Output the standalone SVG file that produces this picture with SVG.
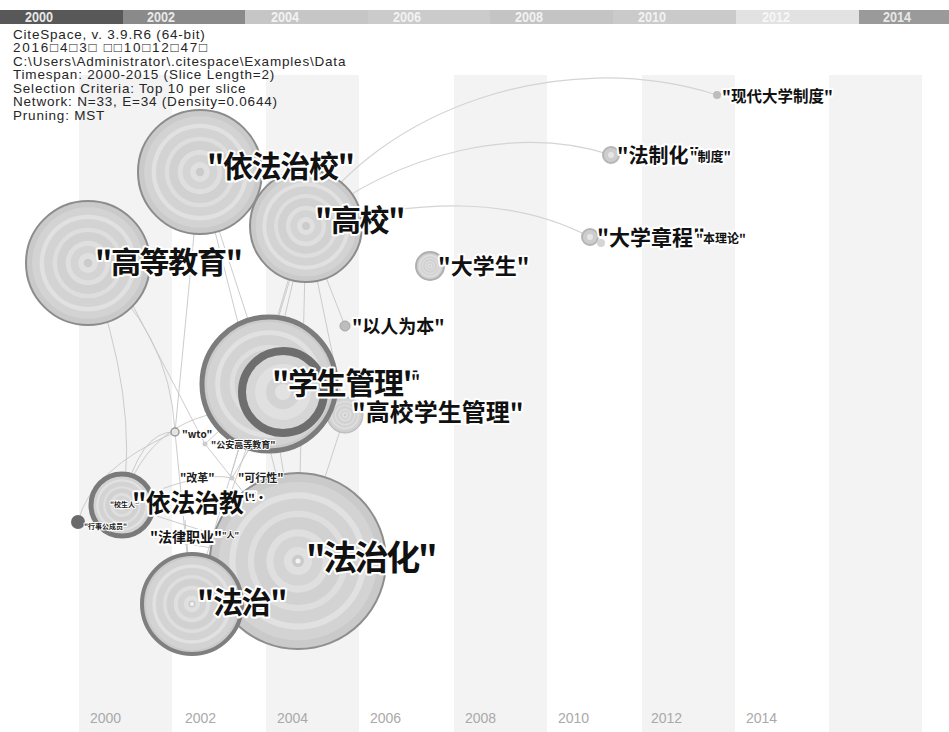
<svg xmlns="http://www.w3.org/2000/svg" xmlns:xlink="http://www.w3.org/1999/xlink" width="949" height="732" viewBox="0 0 949 732">
<style>
.hdr{font-family:"Liberation Sans",Arial,sans-serif;font-size:13.5px;letter-spacing:0.8px;fill:#262626}
.bar{font-family:"Liberation Sans Narrow","Liberation Sans",sans-serif;font-size:14px;font-weight:bold}
.yr{font-family:"Liberation Sans",Arial,sans-serif;font-size:14px;fill:#a9a9a9}
.lb{font-family:"Noto Sans CJK SC","Liberation Sans",sans-serif;font-weight:bold;fill:#111;stroke:#fff;stroke-width:4;stroke-linejoin:round;paint-order:stroke}
.big{letter-spacing:-1.3px}
.sm{font-family:"Noto Sans CJK SC","Liberation Sans",sans-serif;font-weight:bold;fill:#222;stroke:#fff;stroke-width:2;stroke-linejoin:round;paint-order:stroke}
.edge{fill:none;stroke:#c6c6c6;stroke-width:0.9}
.edge2{fill:none;stroke:#d4d4d4;stroke-width:1.2}
.stripe{fill:#f3f3f3}
</style>
<defs>
<g id="rings">
<circle r="100" fill="#cacaca"/>
<circle r="90" fill="#d3d3d3"/>
<circle r="78" fill="#e1e1e1"/>
<circle r="71" fill="#d3d3d3"/>
<circle r="57" fill="#dedede"/>
<circle r="50" fill="#d1d1d1"/>
<circle r="36" fill="#dfdfdf"/>
<circle r="28" fill="#d4d4d4"/>
<circle r="16" fill="#e0e0e0"/>
<circle r="7" fill="#cbcbcb"/>
</g>
</defs>
<rect width="949" height="732" fill="#ffffff"/>

<g id="stripes">
<rect class="stripe" x="79" y="75" width="93" height="657"/>
<rect class="stripe" x="266" y="75" width="93" height="657"/>
<rect class="stripe" x="454" y="75" width="93" height="657"/>
<rect class="stripe" x="642" y="75" width="93" height="657"/>
<rect class="stripe" x="829" y="75" width="93" height="657"/>
</g>

<g id="timebar">
<rect x="0" y="10" width="123" height="14" fill="#585858"/>
<rect x="123" y="10" width="122" height="14" fill="#8a8a8a"/>
<rect x="245" y="10" width="123" height="14" fill="#c6c6c6"/>
<rect x="368" y="10" width="122" height="14" fill="#cbcbcb"/>
<rect x="490" y="10" width="123" height="14" fill="#c4c4c4"/>
<rect x="613" y="10" width="123" height="14" fill="#cacaca"/>
<rect x="736" y="10" width="123" height="14" fill="#e2e2e2"/>
<rect x="859" y="10" width="90" height="14" fill="#9a9a9a"/>
<text class="bar" x="25" y="22" fill="#e8e8e8" textLength="28" lengthAdjust="spacingAndGlyphs">2000</text>
<text class="bar" x="147" y="22" fill="#e8e8e8" textLength="28" lengthAdjust="spacingAndGlyphs">2002</text>
<text class="bar" x="271" y="22" fill="#f2f2f2" textLength="28" lengthAdjust="spacingAndGlyphs">2004</text>
<text class="bar" x="393" y="22" fill="#f2f2f2" textLength="28" lengthAdjust="spacingAndGlyphs">2006</text>
<text class="bar" x="515" y="22" fill="#f2f2f2" textLength="28" lengthAdjust="spacingAndGlyphs">2008</text>
<text class="bar" x="638" y="22" fill="#f2f2f2" textLength="28" lengthAdjust="spacingAndGlyphs">2010</text>
<text class="bar" x="762" y="22" fill="#f7f7f7" textLength="28" lengthAdjust="spacingAndGlyphs">2012</text>
<text class="bar" x="883" y="22" fill="#e8e8e8" textLength="28" lengthAdjust="spacingAndGlyphs">2014</text>
</g>

<g id="header">
<text class="hdr" x="13" y="39">CiteSpace, v. 3.9.R6 (64-bit)</text>
<text class="hdr" x="13" y="52" textLength="195">2016□4□3□ □□10□12□47□</text>
<text class="hdr" x="13" y="66">C:\Users\Administrator\.citespace\Examples\Data</text>
<text class="hdr" x="13" y="79">Timespan: 2000-2015 (Slice Length=2)</text>
<text class="hdr" x="13" y="93">Selection Criteria: Top 10 per slice</text>
<text class="hdr" x="13" y="106">Network: N=33, E=34 (Density=0.0644)</text>
<text class="hdr" x="13" y="120">Pruning: MST</text>
</g>

<g id="connectors">
<path class="edge2" d="M306 226 C380 110 560 45 717 95"/>
<path class="edge2" d="M306 226 C400 150 520 125 611 155"/>
<path class="edge2" d="M306 226 C420 200 510 195 590 237"/>
<path class="edge" d="M306 226 L269 384"/>
<path class="edge" d="M306 226 L298 561"/>
<path class="edge" d="M306 226 L345 326"/>
<path class="edge" d="M306 226 L345 415"/>
<path class="edge" d="M306 226 L192 604"/>
<path class="edge" d="M300 240 L230 478"/>
<path class="edge" d="M200 172 L269 384"/>
<path class="edge" d="M200 172 L175 432"/>
<path class="edge" d="M200 172 L298 561"/>
<path class="edge" d="M88 263 Q170 330 175 432"/>
<path class="edge" d="M88 263 Q140 400 122 505"/>
<path class="edge" d="M130 300 L205 444"/>
<path class="edge" d="M269 384 L298 561"/>
<path class="edge" d="M269 384 L192 604"/>
<path class="edge" d="M269 384 L205 444"/>
<path class="edge" d="M283 392 L232 478"/>
<path class="edge" d="M345 415 L298 561"/>
<path class="edge" d="M122 505 Q140 430 175 432"/>
<path class="edge" d="M122 505 Q150 410 250 410"/>
<path class="edge" d="M122 505 L298 561"/>
<path class="edge" d="M122 505 Q200 470 232 478"/>
<path class="edge" d="M78 522 Q90 470 175 432"/>
<path class="edge" d="M185 520 L192 604"/>
<path class="edge" d="M160 540 L298 561"/>
<path class="edge" d="M205 444 L298 561"/>
<path class="edge" d="M175 432 L192 604"/>
</g>

<g id="node-fazhihua">
<use xlink:href="#rings" href="#rings" transform="translate(298 561) scale(0.88)"/>
<circle cx="298" cy="561" r="88" fill="none" stroke="#8e8e8e" stroke-width="2"/>
<circle cx="298" cy="561" r="2.5" fill="#f4f4f4"/>
<text class="lb" x="306" y="570" font-size="34" letter-spacing="-2.4">"法治化"</text>
</g>

<g id="node-gaoxiaoxueshengguanli">
<use xlink:href="#rings" href="#rings" transform="translate(345 415) scale(0.18)"/>
<circle cx="345" cy="415" r="18" fill="none" stroke="#b8b8b8" stroke-width="1"/>
<text class="lb" x="352" y="421" font-size="24">"高校学生管理"</text>
</g>

<g id="node-xueshengguanli">
<use xlink:href="#rings" href="#rings" transform="translate(269 384) scale(0.69)"/>
<circle cx="269" cy="384" r="67" fill="none" stroke="#7c7c7c" stroke-width="5"/>
<circle cx="283" cy="392" r="41" fill="#d6d6d6" stroke="#6e6e6e" stroke-width="8"/>
<circle cx="283" cy="392" r="28" fill="#e0e0e0"/>
<circle cx="283" cy="392" r="17" fill="#d3d3d3"/>
<circle cx="283" cy="392" r="8" fill="#e2e2e2"/>
<text class="lb big" x="272" y="394" font-size="30">"学生管理"</text>
<text class="lb" x="411" y="387" font-size="16">"</text>
</g>

<g id="node-yirenweiben">
<circle cx="345" cy="326" r="5" fill="#bdbdbd" stroke="#a5a5a5" stroke-width="1"/>
<text class="lb" x="352" y="333" font-size="18">"以人为本"</text>
</g>

<g id="node-gaoxiao">
<use xlink:href="#rings" href="#rings" transform="translate(306 226) scale(0.56)"/>
<circle cx="306" cy="226" r="56" fill="none" stroke="#8c8c8c" stroke-width="2"/>
<text class="lb big" x="315" y="231" font-size="30">"高校"</text>
</g>

<g id="node-yifazhixiao">
<use xlink:href="#rings" href="#rings" transform="translate(200 172) scale(0.62)"/>
<circle cx="200" cy="172" r="62" fill="none" stroke="#8c8c8c" stroke-width="2"/>
<text class="lb big" x="207" y="177" font-size="30">"依法治校"</text>
</g>

<g id="node-gaodengjiaoyu">
<use xlink:href="#rings" href="#rings" transform="translate(88 263) scale(0.62)"/>
<circle cx="88" cy="263" r="62" fill="none" stroke="#8c8c8c" stroke-width="2"/>
<text class="lb big" x="95" y="273" font-size="30">"高等教育"</text>
</g>

<g id="node-daxuesheng">
<use xlink:href="#rings" href="#rings" transform="translate(430 266) scale(0.14)"/>
<circle cx="430" cy="266" r="14" fill="none" stroke="#b0b0b0" stroke-width="2"/>
<text class="lb" x="438" y="274" font-size="22">"大学生"</text>
</g>

<g id="node-xiandaidaxuezhidu">
<circle cx="717" cy="95" r="4" fill="#bdbdbd"/>
<text class="lb" x="722" y="102" font-size="15.5">"现代大学制度"</text>
</g>

<g id="node-fazhihua2">
<circle cx="611" cy="155" r="8" fill="#cdcdcd" stroke="#b5b5b5" stroke-width="2"/>
<circle cx="611" cy="155" r="3" fill="#e6e6e6"/>
<text class="lb" x="617" y="163" font-size="20">"法制化"</text>
<text class="lb" x="690" y="161" font-size="13">"制度"</text>
</g>

<g id="node-daxuezhangcheng">
<circle cx="590" cy="237" r="8" fill="#cdcdcd" stroke="#b5b5b5" stroke-width="2"/>
<circle cx="590" cy="237" r="3" fill="#e6e6e6"/>
<circle cx="601" cy="243" r="4" fill="#d5d5d5"/>
<text class="lb" x="597" y="245" font-size="21">"大学章程"</text>
<text class="lb" x="696" y="243" font-size="12">"本理论"</text>
</g>

<g id="node-wto">
<circle cx="175" cy="432" r="4" fill="#e5e5e5" stroke="#9a9a9a" stroke-width="1.5"/>
<text class="sm" x="182" y="438" font-size="10">"wto"</text>
</g>

<g id="node-gonganjiaoyu">
<circle cx="205" cy="444" r="2.5" fill="#cccccc"/>
<text class="sm" x="211" y="448" font-size="9">"公安高等教育"</text>
</g>

<g id="node-gaige">
<text class="sm" x="180" y="482" font-size="11">"改革"</text>
</g>

<g id="node-kexingxing">
<circle cx="232" cy="478" r="2.5" fill="#cccccc"/>
<text class="sm" x="238" y="482" font-size="11">"可行性"</text>
</g>

<g id="node-fazhi">
<use xlink:href="#rings" href="#rings" transform="translate(192 604) scale(0.51)"/>
<circle cx="192" cy="604" r="50" fill="none" stroke="#7f7f7f" stroke-width="4"/>
<circle cx="192" cy="604" r="2" fill="#f4f4f4"/>
<text class="lb big" x="197" y="613" font-size="30">"法治"</text>
</g>

<g id="node-yifazhijiao">
<use xlink:href="#rings" href="#rings" transform="translate(122 505) scale(0.33)"/>
<circle cx="122" cy="505" r="31" fill="none" stroke="#7a7a7a" stroke-width="5"/>
<text class="sm" x="110" y="507" font-size="7">"校生人"</text>
<text class="lb" x="132" y="512" font-size="25" letter-spacing="-0.6">"依法治教"</text>
<text class="lb" x="248" y="503" font-size="12">"·</text>
</g>

<g id="node-xingshi">
<circle cx="78" cy="522" r="7" fill="#6a6a6a"/>
<text class="sm" x="84" y="529" font-size="7">"行事公成员"</text>
</g>

<g id="node-falvzhiye">
<text class="lb" x="150" y="542" font-size="14">"法律职业"</text>
<text class="sm" x="222" y="538" font-size="8">"人"</text>
</g>

<g id="axis">
<text class="yr" x="90" y="723">2000</text>
<text class="yr" x="185" y="723">2002</text>
<text class="yr" x="277" y="723">2004</text>
<text class="yr" x="370" y="723">2006</text>
<text class="yr" x="465" y="723">2008</text>
<text class="yr" x="558" y="723">2010</text>
<text class="yr" x="651" y="723">2012</text>
<text class="yr" x="746" y="723">2014</text>
</g>
</svg>
